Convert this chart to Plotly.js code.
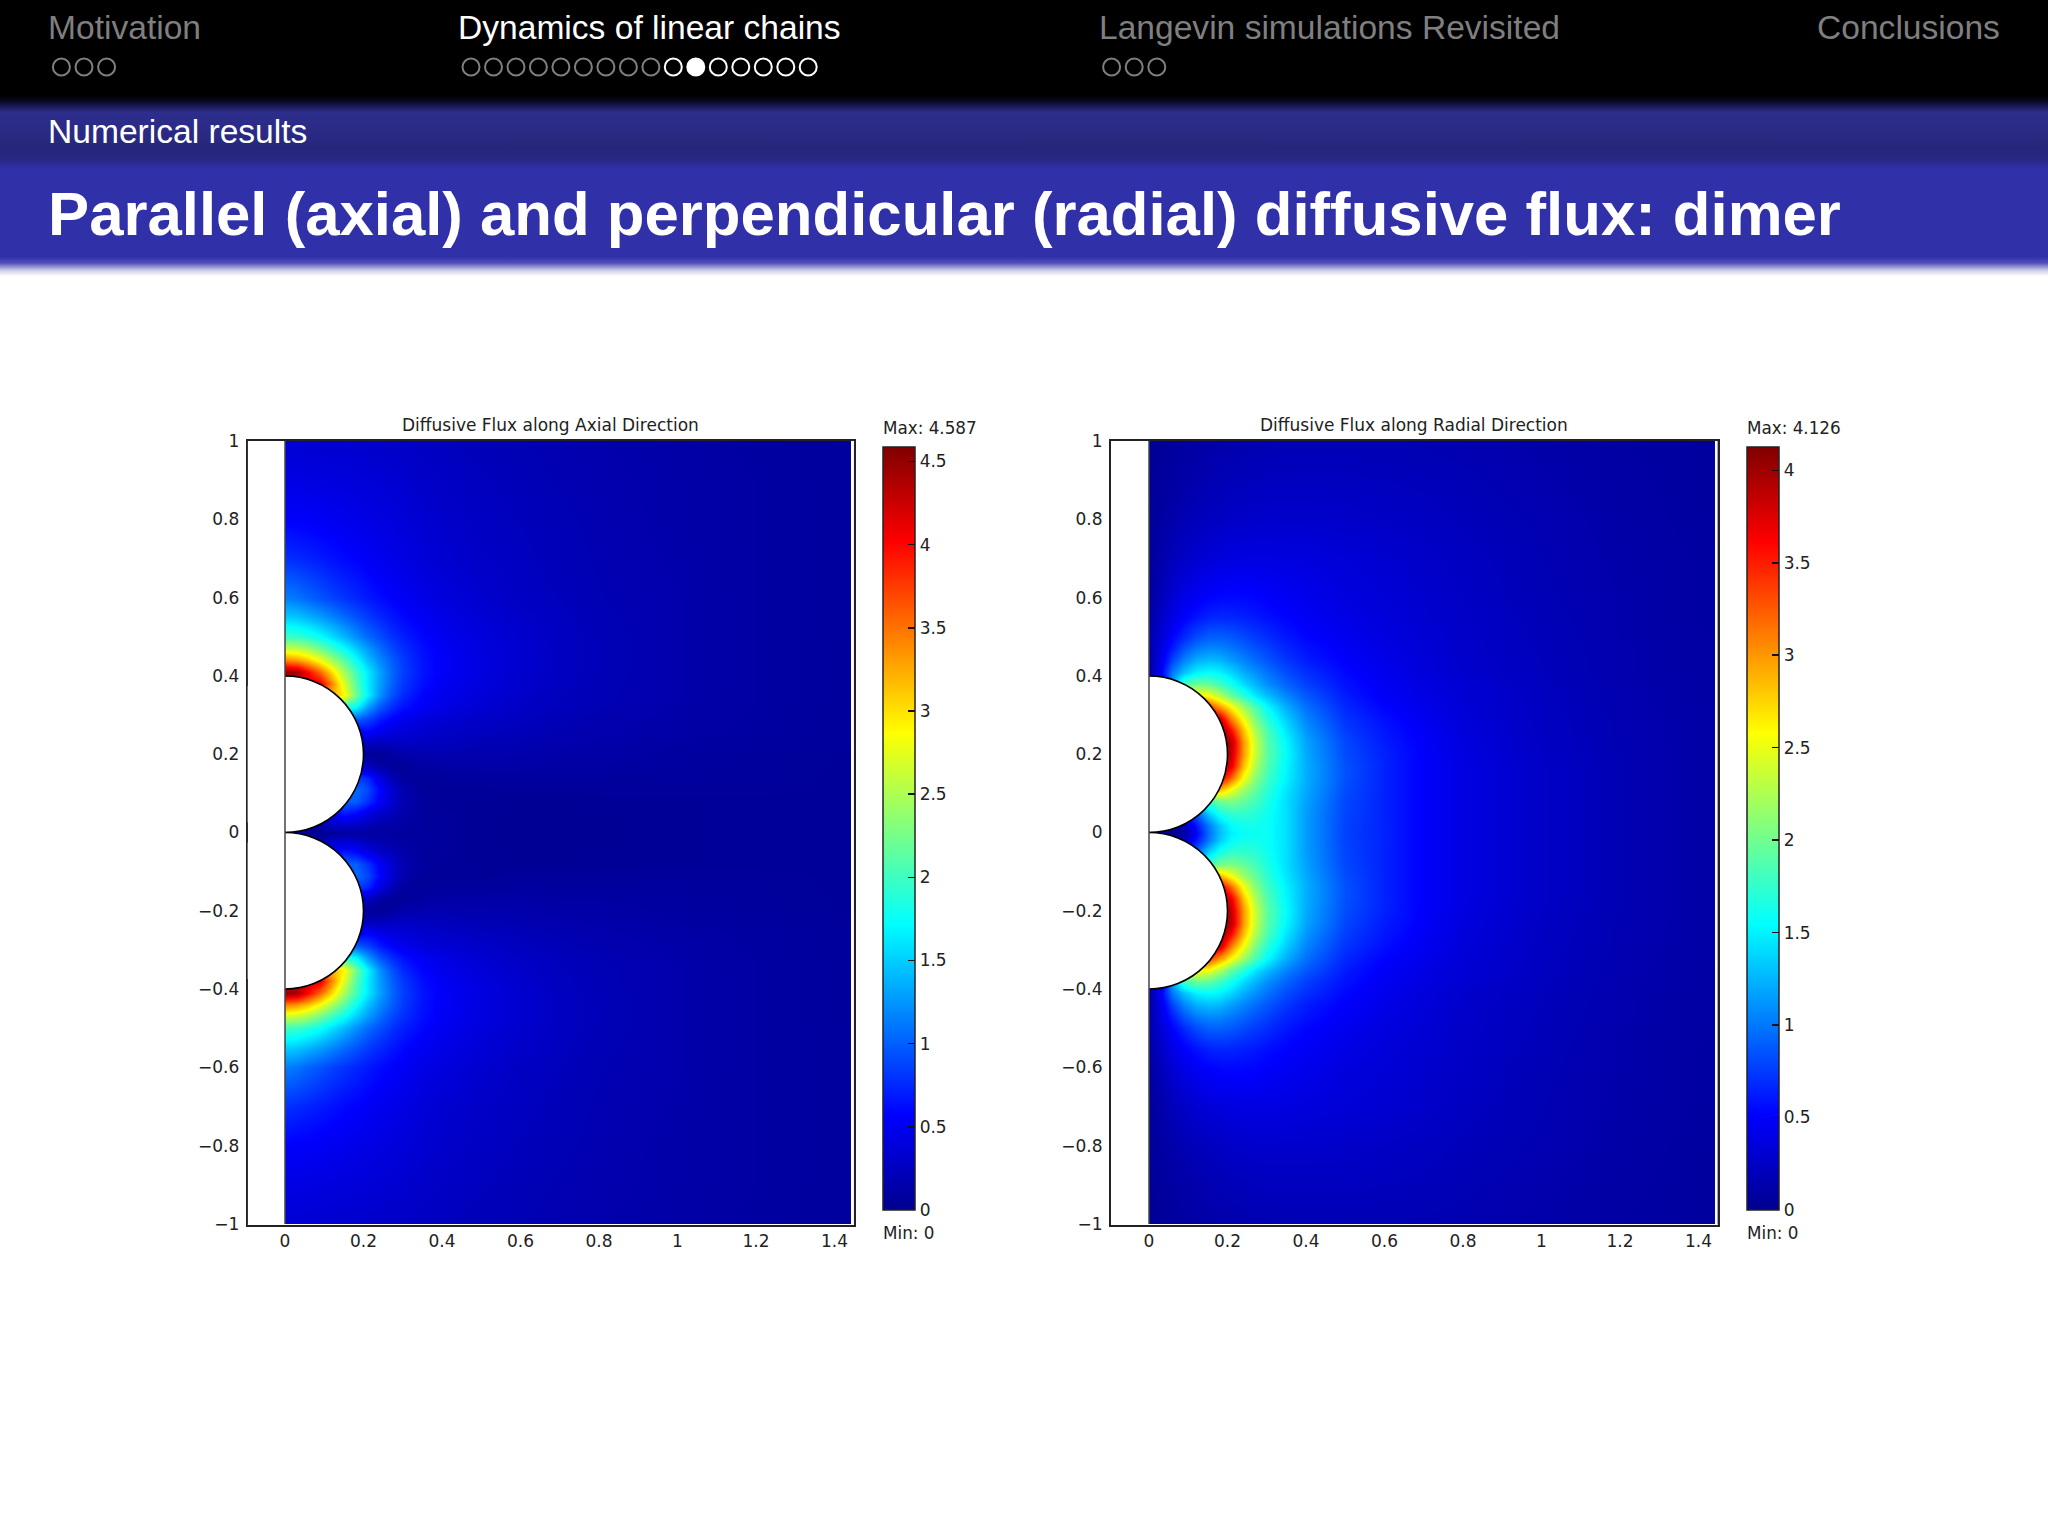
<!DOCTYPE html>
<html>
<head>
<meta charset="utf-8">
<script src="https://cdn.plot.ly/plotly-3.0.1.min.js"></script>
<style>
html,body{margin:0;padding:0;background:#fff;}
#wrap{position:relative;width:2048px;height:1536px;overflow:hidden;background:#fff;}
#band{position:absolute;left:0;top:0;width:2048px;height:280px;
background:linear-gradient(to bottom,#000 0,#000 96px,#0b0b2a 102px,#2d2d8c 112px,#2b2b86 130px,#26267c 148px,#282884 160px,#3030a8 168px,#3030a8 257px,#5050b8 263px,#c8c8e8 270px,#fff 276px);}
#plot{position:absolute;left:0;top:0;width:2048px;height:1536px;}
</style>
</head>
<body>
<div id="wrap"><div id="band"></div><div id="plot"></div></div>
<script>
// ---------- header text ----------
const sectionNames = ["Motivation","Dynamics of linear chains","Langevin simulations Revisited","Conclusions"];
const sectionLeft  = [46.8,457,1098,1816];
const subsection   = "Numerical results";
const slideTitle   = "Parallel (axial) and perpendicular (radial) diffusive flux: dimer";
const navCentres   = [[61.4,84,106.6],
  [471,493.5,516,538.4,560.9,583.4,605.9,628.4,650.9,673.3,695.8,718.3,740.8,763.3,785.8,808.2],
  [1111.6,1134.2,1156.8]];
const navFilledIndex = 10;   // in the second group
const navBrightFrom  = 9;

// ---------- field data (upper half; the picture is mirrored about y=0) ----------
const xNodes = [0,.03,.06,.09,.12,.15,.18,.21,.24,.27,.3,.35,.4,.5,.6,.7,.8,1,1.2,1.445];
const yNodes = [0,.02,.05,.08,.11,.14,.17,.2,.23,.26,.29,.32,.35,.38,.41,.44,.47,.5,.55,.6,.7,.8,.9,1];

const axialRows = [
[.02,.02,.02,.03,.05,.08,.1,.1,.1,.09,.08,.07,.06,.04,.03,.03,.03,.04,.05,.05],
[.1,.1,.1,.1,.3,.3,.28,.2,.15,.12,.1,.08,.06,.04,.03,.03,.03,.04,.05,.05],
[.3,.3,.3,.3,.5,.7,.6,.45,.32,.22,.14,.08,.06,.04,.03,.03,.04,.04,.05,.05],
[.9,.9,.9,.9,.9,1,1,.8,.55,.35,.18,.08,.05,.04,.04,.04,.05,.05,.05,.05],
[1,1,1,1,1,1,1.05,.9,.6,.35,.16,.06,.05,.05,.06,.06,.06,.06,.06,.05],
[.85,.85,.85,.85,.85,.85,.85,.75,.45,.22,.07,.06,.07,.08,.08,.08,.08,.07,.06,.05],
[.35,.35,.35,.35,.35,.35,.35,.25,.12,.05,.05,.1,.12,.12,.12,.1,.1,.08,.07,.05],
[.05,.05,.05,.05,.05,.05,.05,.05,.05,.1,.15,.17,.17,.16,.15,.13,.12,.09,.07,.05],
[.25,.25,.25,.25,.25,.25,.25,.28,.25,.27,.28,.26,.24,.2,.18,.16,.14,.1,.08,.06],
[.55,.55,.55,.55,.55,.55,.55,.6,.5,.42,.38,.33,.3,.25,.22,.18,.16,.12,.09,.06],
[1,1,1,1,1,1,1,.88,.7,.57,.48,.4,.35,.29,.25,.2,.17,.13,.09,.06],
[1.9,1.9,1.9,1.9,1.9,1.9,1.7,1.3,.98,.78,.64,.52,.44,.34,.28,.23,.19,.14,.1,.06],
[3.2,3.2,3.2,3.2,3.2,2.9,2.2,1.7,1.25,.95,.75,.58,.48,.37,.3,.24,.2,.15,.1,.06],
[4.2,4.2,4.2,4.1,3.4,2.7,2.1,1.65,1.3,1.02,.82,.63,.52,.4,.32,.25,.2,.15,.1,.06],
[4.5,4.4,4,3.55,3,2.45,2,1.65,1.32,1.05,.85,.66,.54,.41,.33,.26,.21,.15,.1,.06],
[3.4,3.3,3.1,2.8,2.45,2.1,1.75,1.45,1.2,1,.83,.65,.54,.41,.33,.26,.21,.15,.1,.06],
[2.6,2.55,2.42,2.2,1.95,1.72,1.48,1.27,1.07,.9,.77,.63,.53,.41,.33,.26,.21,.15,.1,.06],
[2,1.97,1.88,1.75,1.58,1.4,1.22,1.06,.93,.8,.7,.59,.5,.39,.32,.26,.21,.15,.1,.07],
[1.5,1.46,1.38,1.28,1.17,1.05,.94,.84,.75,.67,.6,.52,.45,.36,.3,.25,.2,.15,.1,.07],
[1.15,1.1,1.02,.95,.87,.8,.74,.68,.62,.57,.52,.45,.4,.33,.27,.23,.19,.15,.1,.07],
[.78,.75,.72,.68,.64,.6,.57,.53,.49,.46,.43,.38,.34,.29,.25,.21,.18,.14,.1,.07],
[.56,.55,.54,.52,.5,.48,.46,.44,.42,.4,.38,.34,.31,.26,.23,.2,.17,.13,.1,.07],
[.44,.43,.42,.41,.4,.39,.38,.37,.36,.34,.33,.3,.28,.24,.21,.18,.16,.13,.1,.07],
[.35,.35,.34,.34,.33,.33,.32,.31,.3,.29,.28,.26,.24,.21,.19,.17,.15,.12,.09,.07]
];

const radialRows = [
[.02,.02,.03,.1,.5,.95,1.3,1.5,1.58,1.6,1.58,1.42,1.15,.78,.65,.5,.38,.26,.17,.1],
[.05,.05,.05,.2,.6,1,1.35,1.55,1.62,1.62,1.58,1.42,1.15,.78,.65,.5,.38,.26,.17,.1],
[1,1,1,1,.9,1.35,1.65,1.75,1.75,1.7,1.6,1.42,1.15,.79,.65,.5,.38,.26,.17,.1],
[1.8,1.8,1.8,1.8,1.8,1.8,2,2.05,1.95,1.82,1.65,1.42,1.17,.8,.65,.5,.38,.26,.17,.1],
[2.9,2.9,2.9,2.9,2.9,2.9,2.9,2.55,2.2,1.95,1.72,1.45,1.2,.82,.65,.5,.38,.26,.17,.1],
[3.7,3.7,3.7,3.7,3.7,3.7,3.7,3.2,2.55,2.1,1.8,1.5,1.22,.84,.65,.5,.38,.26,.17,.1],
[4.05,4.05,4.05,4.05,4.05,4.05,4.05,3.7,2.85,2.25,1.87,1.52,1.22,.84,.65,.5,.38,.26,.17,.1],
[4.12,4.12,4.12,4.12,4.12,4.12,4.12,3.85,3,2.35,1.92,1.55,1.2,.82,.64,.5,.37,.25,.17,.1],
[4.12,4.12,4.12,4.12,4.12,4.12,4.12,3.9,3,2.35,1.9,1.52,1.18,.8,.62,.49,.36,.25,.16,.1],
[4.1,4.1,4.1,4.1,4.1,4.1,4.1,3.6,2.85,2.25,1.85,1.45,1.12,.76,.6,.47,.35,.24,.16,.1],
[3.9,3.9,3.9,3.9,3.9,3.9,3.8,3.1,2.55,2.05,1.7,1.35,1.05,.72,.57,.45,.34,.24,.16,.1],
[3.4,3.4,3.4,3.4,3.4,3.4,3,2.6,2.2,1.85,1.55,1.22,.97,.67,.52,.42,.33,.23,.15,.1],
[2.6,2.6,2.6,2.6,2.6,2.55,2.25,1.95,1.7,1.45,1.28,1.05,.87,.62,.48,.39,.32,.23,.15,.09],
[.08,.3,1.2,1.85,2,1.95,1.8,1.62,1.42,1.25,1.1,.92,.77,.58,.46,.38,.31,.22,.15,.09],
[.08,.5,1,1.3,1.5,1.55,1.5,1.38,1.22,1.1,.98,.82,.7,.54,.43,.35,.29,.21,.14,.09],
[.1,.42,.78,1.05,1.22,1.28,1.25,1.15,1.05,.95,.86,.73,.62,.5,.41,.34,.28,.21,.14,.09],
[.12,.38,.62,.85,1,1.06,1.05,.99,.92,.84,.77,.66,.58,.47,.39,.33,.27,.2,.14,.09],
[.13,.33,.52,.68,.82,.9,.9,.87,.81,.75,.69,.6,.53,.44,.37,.32,.27,.2,.13,.09],
[.1,.27,.4,.51,.59,.65,.67,.66,.64,.61,.57,.52,.47,.4,.35,.3,.26,.19,.13,.08],
[.08,.2,.32,.41,.47,.52,.54,.55,.54,.53,.5,.47,.43,.37,.33,.29,.25,.18,.13,.08],
[.06,.13,.2,.26,.3,.34,.36,.37,.38,.38,.38,.37,.36,.33,.3,.27,.23,.17,.12,.08],
[.05,.09,.13,.17,.2,.22,.24,.26,.27,.28,.28,.28,.28,.27,.25,.23,.2,.16,.11,.07],
[.04,.07,.09,.12,.14,.16,.18,.19,.2,.21,.22,.22,.22,.22,.21,.2,.18,.14,.1,.07],
[.03,.05,.07,.08,.1,.11,.13,.14,.15,.16,.16,.17,.17,.17,.17,.16,.15,.12,.09,.07]
];

const plotTitles = ["Diffusive Flux along Axial Direction","Diffusive Flux along Radial Direction"];
const fieldMax   = [4.587,4.126];
const maxLabels  = ["Max: 4.587","Max: 4.126"];
const minLabel   = "Min: 0";
const sphereCentres = [0.2,-0.2];
const sphereRadius  = 0.2;
const fieldXEnd = 1.442;

// ---------- layout in page pixels ----------
const W=2048,H=1536;
const px=v=>v/W, py=v=>1-v/H;
const frameX=[[247.7,853.5],[1111,1717.7]];
const frameY=[441,1225];
const barX=[[883,915],[1747,1779]];
const barY=[447,1210];
const unitX=392.5, unitY=391.5;
const zeroX=[285,1149], zeroY=832.5;
const titleCx=[550.5,1414];

const jet=[[0,'#00008f'],[.125,'#0000ff'],[.375,'#00ffff'],[.625,'#ffff00'],[.875,'#ff0000'],[1,'#800000']];
const textCol='#222222';
const tf={family:'DejaVu Sans',size:17,color:textCol};

const yAll = yNodes.slice(1).reverse().map(v=>-v).concat(yNodes);
const mirror = rows => rows.slice(1).reverse().concat(rows);

const traces=[axialRows,radialRows].map((rows,i)=>({
  type:'heatmap',x:xNodes,y:yAll,z:mirror(rows),
  xaxis:i?'x2':'x',yaxis:i?'y2':'y',
  zsmooth:'best',zmin:0,zmax:fieldMax[i],colorscale:jet,hoverinfo:'skip',
  colorbar:{x:px(barX[i][0]),xanchor:'left',xpad:0,ypad:0,
    y:py(barY[0]),yanchor:'top',lenmode:'pixels',len:barY[1]-barY[0],
    thicknessmode:'pixels',thickness:barX[i][1]-barX[i][0],
    outlinecolor:'#222',outlinewidth:1.5,borderwidth:0,
    tick0:0,dtick:.5,ticks:'inside',ticklen:7,tickwidth:1.5,tickcolor:'#111',
    tickfont:tf}
}));

const shapes=[],annotations=[];
function label(text,x,y,size,color,weight,family,anchor){
  annotations.push({text:text,x:px(x),y:py(y),xref:'paper',yref:'paper',showarrow:false,
    xanchor:anchor||'left',yanchor:'middle',borderpad:0,
    font:{family:family,size:size,color:color,weight:weight||400}});
}
// header
const SANS='Liberation Sans';
sectionNames.forEach((t,i)=>label(t,sectionLeft[i],27.5,33.6,i===1?'#ffffff':'#7f7f7f',400,SANS));
label(subsection,46.8,131,33.6,'#ffffff',400,SANS);
label(slideTitle,46.8,214,61.7,'#ffffff',700,SANS);
navCentres.forEach((grp,g)=>grp.forEach((c,k)=>{
  const bright=g===1&&k>=navBrightFrom, filled=g===1&&k===navFilledIndex;
  shapes.push({type:'circle',xref:'paper',yref:'paper',x0:px(c-8.5),x1:px(c+8.5),y0:py(75.5),y1:py(58.5),
    line:{color:bright?'#ffffff':'#7f7f7f',width:2},fillcolor:filled?'#ffffff':'rgba(0,0,0,0)'});
}));

// plots
const axesLayout={};
[0,1].forEach(i=>{
  const xn=i?'xaxis2':'xaxis', yn=i?'yaxis2':'yaxis', xr=i?'x2':'x', yr=i?'y2':'y';
  const xlo=(frameX[i][0]-zeroX[i])/unitX, xhi=(frameX[i][1]-zeroX[i])/unitX;
  const ylo=(zeroY-frameY[1])/unitY, yhi=(zeroY-frameY[0])/unitY;
  const common={showgrid:false,zeroline:false,showline:true,mirror:true,linecolor:'#222',linewidth:2,
    ticks:'outside',tickcolor:'rgba(0,0,0,0)',tick0:0,dtick:.2,tickfont:tf,fixedrange:true};
  axesLayout[xn]=Object.assign({},common,{ticklen:0,domain:[px(frameX[i][0]),px(frameX[i][1])],range:[xlo,xhi],anchor:yr});
  axesLayout[yn]=Object.assign({},common,{ticklen:3,domain:[1-frameY[1]/H,1-frameY[0]/H],range:[ylo,yhi],anchor:xr});
  sphereCentres.forEach(c=>shapes.push({type:'circle',xref:xr,yref:yr,layer:'above',
    x0:-sphereRadius,x1:sphereRadius,y0:c-sphereRadius,y1:c+sphereRadius,
    fillcolor:'#ffffff',line:{color:'#000',width:1.6}}));
  shapes.push({type:'rect',xref:xr,yref:yr,x0:xlo,x1:0,y0:ylo,y1:yhi,fillcolor:'#fff',line:{width:0}});
  shapes.push({type:'rect',xref:xr,yref:yr,x0:fieldXEnd,x1:xhi,y0:ylo,y1:yhi,fillcolor:'#fff',line:{width:0}});
  shapes.push({type:'rect',xref:xr,yref:yr,x0:xlo,x1:xhi,y0:ylo,y1:-1,fillcolor:'#fff',line:{width:0}});
  shapes.push({type:'line',xref:xr,yref:yr,x0:0,x1:0,y0:-1,y1:yhi,line:{color:'#444',width:1.5}});
  label(plotTitles[i],titleCx[i],425,17,textCol,400,'DejaVu Sans','center');
  label(maxLabels[i],barX[i][0]-.8,428,16.8,textCol,400,'DejaVu Sans');
  label(minLabel,barX[i][0]-.8,1233,16.8,textCol,400,'DejaVu Sans');
  // colour bar ticks on the left edge of the bar
  const h=barY[1]-barY[0];
  for(let t=0.5;t<=fieldMax[i];t+=0.5){
    const yy=barY[1]-t/fieldMax[i]*h;
    shapes.push({type:'line',xref:'paper',yref:'paper',x0:px(barX[i][0]),x1:px(barX[i][0]+7),y0:py(yy),y1:py(yy),line:{color:'#111',width:1.5}});
  }
});

const layout=Object.assign({
  width:W,height:H,margin:{l:0,r:0,t:0,b:0,pad:0},autosize:false,
  paper_bgcolor:'rgba(0,0,0,0)',plot_bgcolor:'#ffffff',showlegend:false,
  shapes:shapes,annotations:annotations,font:{family:'DejaVu Sans',color:textCol}
},axesLayout);
Plotly.newPlot('plot',traces,layout,{displayModeBar:false,staticPlot:true});
</script>
</body>
</html>
